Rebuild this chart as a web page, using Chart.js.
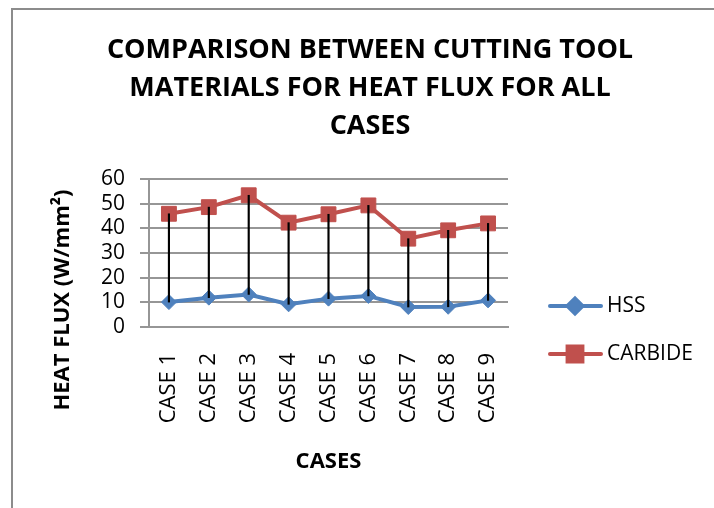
<!DOCTYPE html>
<html>
<head>
<meta charset="utf-8">
<script src="https://cdn.jsdelivr.net/npm/chart.js@4.4.0/dist/chart.umd.min.js"></script>
<style>
  body { margin: 0; background: #fff; }
  #wrap { position: relative; width: 714px; height: 508px; overflow: hidden; }
  #frame { position: absolute; left: 11px; top: 8px; width: 760px; height: 560px;
           border-left: 2px solid #8c8c8c; border-top: 2px solid #8c8c8c; }
  canvas { position: absolute; left: 0; top: 0; }
</style>
</head>
<body>
<div id="wrap">
  <div id="frame"></div>
  <canvas id="chart" width="714" height="508"></canvas>
</div>
<script>
// --- data ---
const categories = ['CASE 1', 'CASE 2', 'CASE 3', 'CASE 4', 'CASE 5', 'CASE 6', 'CASE 7', 'CASE 8', 'CASE 9'];
const hss = [10.1, 11.9, 13.2, 9.2, 11.5, 12.6, 8.1, 8.2, 10.8];
const carbide = [45.9, 48.6, 53.4, 42.3, 45.7, 49.3, 35.8, 39.2, 42.0];
const titleLines = ['COMPARISON BETWEEN CUTTING TOOL', 'MATERIALS FOR HEAT FLUX FOR ALL', 'CASES'];
const yTitle = 'HEAT FLUX (W/mm\u00B2)';
const xTitle = 'CASES';

const FONT = '"Open Sans", sans-serif';
const GRID = '#969696';

// hi-low lines between the two series
const hiLow = hss.map((h, i) => [h, carbide[i]]);

// title, y title and legend drawn by hand (Excel-like layout)
const decorPlugin = {
    id: 'decor',
    afterDraw(chart) {
        const c = chart.ctx;
        c.save();
        c.fillStyle = '#000';
        c.textAlign = 'center';
        c.textBaseline = 'middle';
        c.font = 'bold 27px ' + FONT;
        titleLines.forEach((t, i) => c.fillText(t, 370, 50 + i * 38));

        c.save();
        c.translate(63, 300);
        c.rotate(-Math.PI / 2);
        c.font = 'bold 22px ' + FONT;
        c.fillText(yTitle, 0, 0);
        c.restore();

        // legend
        const items = chart.data.datasets.filter(d => d.type === 'line');
        items.forEach((ds, i) => {
            const y = 306 + i * 48;
            c.strokeStyle = ds.borderColor;
            c.lineWidth = ds.borderWidth;
            c.lineCap = 'round';
            c.beginPath();
            c.moveTo(550, y);
            c.lineTo(601, y);
            c.stroke();
            Chart.helpers.drawPoint(c, {
                pointStyle: ds.pointStyle,
                radius: ds.pointRadius,
                borderWidth: 1
            }, 575, y);
            c.fillStyle = ds.backgroundColor;
            c.fill();
            c.fillStyle = '#000';
            c.textAlign = 'left';
            c.font = '21px ' + FONT;
            c.fillText(ds.label, 607, y);
        });
        c.restore();
    }
};

new Chart(document.getElementById('chart'), {
    data: {
        labels: categories,
        datasets: [
            {
                type: 'bar',
                label: 'hi-low',
                data: hiLow,
                backgroundColor: '#000',
                barThickness: 1.5,
                order: 0
            },
            {
                type: 'line',
                label: 'HSS',
                data: hss,
                borderColor: '#4F81BD',
                backgroundColor: '#4F81BD',
                borderWidth: 4,
                pointStyle: 'rectRot',
                pointRadius: 7.5,
                pointBorderWidth: 1,
                tension: 0,
                order: 2
            },
            {
                type: 'line',
                label: 'CARBIDE',
                data: carbide,
                borderColor: '#C0504D',
                backgroundColor: '#C0504D',
                borderWidth: 4,
                pointStyle: 'rect',
                pointRadius: 10.5,
                pointBorderWidth: 1,
                tension: 0,
                order: 1
            }
        ]
    },
    options: {
        responsive: false,
        animation: false,
        layout: { padding: { left: 0, top: 179, right: 206, bottom: 0 } },
        plugins: {
            legend: { display: false },
            title: { display: false },
            tooltip: { enabled: false }
        },
        scales: {
            x: {
                offset: true,
                grid: { display: false, drawTicks: false },
                border: { display: true, color: GRID, width: 2 },
                ticks: {
                    color: '#000',
                    font: { family: FONT, size: 22 },
                    maxRotation: 90,
                    minRotation: 90,
                    padding: 26
                },
                title: {
                    display: true,
                    text: xTitle,
                    color: '#000',
                    font: { family: FONT, size: 22, weight: 'bold' },
                    padding: { top: 0, bottom: 33 }
                },
                afterFit(scale) { scale.height = 181; }
            },
            y: {
                min: 0,
                max: 60,
                ticks: {
                    stepSize: 10,
                    autoSkip: false,
                    color: '#000',
                    font: { family: FONT, size: 21, lineHeight: 1 },
                    padding: 15
                },
                grid: { color: GRID, lineWidth: 2, tickLength: 9 },
                border: { display: true, color: GRID, width: 2 },
                afterFit(scale) { scale.width = 149; }
            }
        }
    },
    plugins: [decorPlugin]
});
</script>
</body>
</html>
